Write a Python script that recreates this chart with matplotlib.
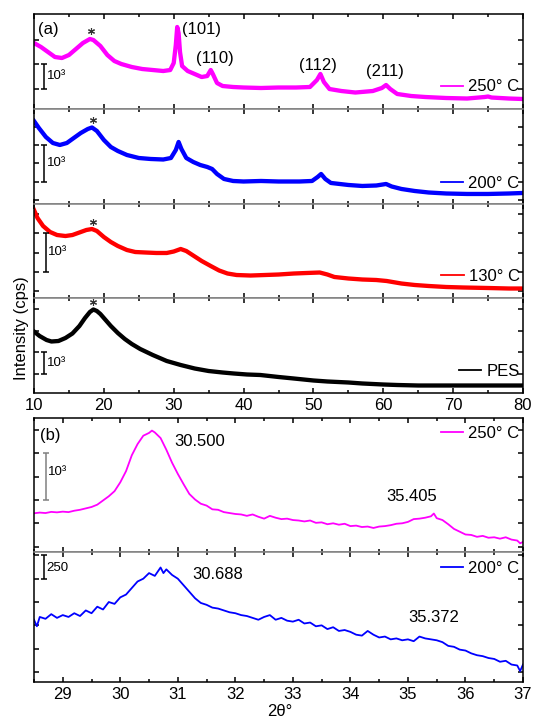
import matplotlib
matplotlib.use('Agg')
import matplotlib.pyplot as plt
from matplotlib.lines import Line2D
from matplotlib.ticker import MultipleLocator

plt.rcParams['font.family'] = ['Liberation Sans', 'DejaVu Sans']

# --- dados (a): 2theta x intensidade (cps) ---
tt_250 = [10.0, 11.0, 12.0, 13.0, 14.0, 15.0, 16.0, 17.0, 18.0, 18.5, 19.5, 20.5, 21.5, 22.5,
          24.0, 25.5, 27.0, 28.5, 29.5, 30.0, 30.3, 30.5, 30.7, 30.9, 31.2, 32.0, 33.0, 34.0,
          34.8, 35.3, 35.6, 36.2, 37.0, 38.5, 40.0, 42.5, 45.0, 47.5, 49.5, 50.5, 51.0, 51.5,
          52.3, 54.0, 56.0, 58.5, 59.8, 60.4, 61.0, 62.0, 64.0, 66.0, 69.0, 72.0, 74.5, 75.0,
          75.5, 78.0, 80.0]
int_250 = [2872, 2708, 2502, 2296, 2255, 2379, 2625, 2872, 3037, 2996, 2749, 2379, 2132, 2008,
           1885, 1802, 1761, 1720, 1761, 2049, 2790, 3531, 3284, 2502, 1926, 1720, 1597, 1473,
           1514, 1761, 1597, 1226, 1103, 1062, 1041, 1021, 1041, 1041, 1062, 1350, 1597, 1267,
           979, 897, 835, 897, 1021, 1144, 979, 774, 691, 650, 609, 588, 650, 671,
           629, 588, 568]

tt_200 = [10.0, 10.7, 11.7, 12.7, 13.7, 14.7, 15.7, 16.7, 17.7, 18.3, 19.0, 20.0, 21.0, 22.0,
          23.3, 25.0, 26.7, 28.5, 29.6, 30.3, 30.7, 31.1, 31.8, 32.8, 33.8, 34.8, 35.5, 36.2,
          37.2, 38.5, 40.0, 42.5, 45.0, 48.0, 49.8, 50.6, 51.1, 51.7, 52.5, 55.0, 57.0, 59.0,
          60.4, 61.2, 62.6, 64.5, 66.5, 69.0, 72.0, 75.0, 78.0, 80.0]
int_200 = [2655, 2464, 2219, 2055, 2001, 2055, 2192, 2328, 2437, 2478, 2383, 2137, 1946, 1837,
           1728, 1646, 1619, 1605, 1646, 1864, 2083, 1892, 1646, 1537, 1455, 1401, 1346, 1210,
           1074, 1019, 1005, 1019, 1005, 1005, 1019, 1128, 1210, 1074, 965, 910, 883, 896,
           937, 869, 801, 746, 705, 678, 665, 665, 678, 692]

tt_130 = [10.0, 10.5, 11.3, 12.3, 13.3, 14.5, 15.5, 16.5, 17.5, 18.3, 19.0, 20.0, 21.0, 22.0,
          23.3, 24.5, 26.0, 27.5, 29.0, 30.0, 31.0, 31.8, 32.9, 34.0, 35.3, 36.5, 37.7, 39.0,
          41.0, 43.0, 45.0, 47.2, 49.0, 50.9, 52.0, 53.0, 55.0, 57.0, 59.0, 60.5, 62.6, 64.5,
          66.5, 69.0, 71.5, 75.0, 78.0, 80.0]
int_130 = [2604, 2397, 2190, 2035, 1957, 1931, 1957, 2022, 2087, 2112, 2061, 1905, 1776, 1673,
           1569, 1517, 1504, 1492, 1492, 1530, 1595, 1543, 1414, 1285, 1155, 1039, 961, 922,
           909, 922, 935, 961, 974, 987, 935, 871, 832, 806, 793, 767, 702, 664,
           638, 612, 599, 586, 573, 573]

tt_pes = [10.0, 10.8, 11.8, 12.5, 13.5, 14.5, 15.5, 16.5, 17.3, 18.0, 18.5, 19.0, 19.5, 20.0,
          21.0, 22.0, 23.0, 24.0, 25.2, 27.0, 29.0, 31.0, 33.0, 35.0, 37.0, 38.6, 40.5, 42.4,
          45.0, 47.2, 50.0, 52.0, 55.0, 57.0, 60.0, 62.0, 65.0, 70.0, 75.0, 80.0]
int_pes = [2961, 2754, 2569, 2500, 2523, 2661, 2869, 3215, 3584, 3861, 3977, 3907, 3769, 3584,
           3215, 2892, 2615, 2385, 2154, 1877, 1600, 1415, 1254, 1138, 1069, 1023, 977, 954,
           862, 792, 700, 654, 608, 562, 515, 492, 469, 469, 469, 469]

# posição dos asteriscos (pico amorfo do PES) em cada painel
tt_ast = [18.1, 18.4, 18.4, 18.5]
int_ast = [3346, 2683, 2301, 4346]

# --- dados (b): zoom 28.5-37 ---
tt_b250 = [28.5, 28.6, 28.7, 28.8, 28.9, 29.0, 29.1, 29.2, 29.3, 29.4, 29.5, 29.6, 29.7, 29.8,
           29.9, 30.0, 30.1, 30.2, 30.3, 30.4, 30.5, 30.55, 30.6, 30.7, 30.8, 30.9, 31.0, 31.1,
           31.2, 31.3, 31.4, 31.5, 31.6, 31.7, 31.8, 31.9, 32.0, 32.1, 32.2, 32.3, 32.4, 32.5,
           32.6, 32.7, 32.8, 32.9, 33.0, 33.1, 33.2, 33.3, 33.4, 33.5, 33.6, 33.7, 33.8, 33.9,
           34.0, 34.1, 34.2, 34.3, 34.4, 34.5, 34.6, 34.7, 34.8, 34.9, 35.0, 35.1, 35.2, 35.3,
           35.4, 35.45, 35.5, 35.6, 35.7, 35.8, 35.9, 36.0, 36.1, 36.2, 36.3, 36.4, 36.5, 36.6,
           36.7, 36.8, 36.9, 36.95, 37.0]
int_b250 = [1715, 1730, 1720, 1745, 1735, 1750, 1740, 1770, 1790, 1820, 1850, 1900, 1990, 2080,
            2190, 2380, 2620, 2960, 3200, 3380, 3440, 3490, 3450, 3330, 3080, 2800, 2560, 2340,
            2130, 2010, 1920, 1880, 1800, 1790, 1740, 1720, 1700, 1690, 1660, 1690, 1640, 1600,
            1660, 1620, 1590, 1600, 1570, 1560, 1540, 1560, 1510, 1520, 1480, 1500, 1470, 1490,
            1440, 1450, 1420, 1430, 1400, 1430, 1440, 1460, 1490, 1500, 1530, 1590, 1600, 1620,
            1650, 1710, 1610, 1570, 1480, 1380, 1320, 1260, 1250, 1210, 1230, 1190, 1200, 1170,
            1200, 1150, 1130, 1070, 1100]

tt_b200 = [28.5, 28.55, 28.6, 28.7, 28.8, 28.9, 29.0, 29.1, 29.2, 29.3, 29.4, 29.5, 29.6, 29.7,
           29.8, 29.9, 30.0, 30.1, 30.2, 30.3, 30.4, 30.5, 30.6, 30.7, 30.75, 30.8, 30.9, 31.0,
           31.1, 31.2, 31.3, 31.4, 31.5, 31.6, 31.7, 31.8, 31.9, 32.0, 32.1, 32.2, 32.3, 32.4,
           32.5, 32.6, 32.7, 32.8, 32.9, 33.0, 33.1, 33.2, 33.3, 33.4, 33.5, 33.6, 33.7, 33.8,
           33.9, 34.0, 34.1, 34.2, 34.3, 34.4, 34.5, 34.6, 34.7, 34.8, 34.9, 35.0, 35.1, 35.2,
           35.3, 35.4, 35.5, 35.6, 35.7, 35.8, 35.9, 36.0, 36.1, 36.2, 36.3, 36.4, 36.5, 36.6,
           36.7, 36.8, 36.9, 36.95, 37.0]
int_b200 = [1060, 990, 1090, 1070, 1120, 1080, 1110, 1090, 1130, 1100, 1160, 1130, 1200, 1170,
            1250, 1230, 1300, 1330, 1400, 1470, 1500, 1560, 1530, 1620, 1560, 1600, 1540, 1500,
            1430, 1360, 1290, 1240, 1220, 1190, 1180, 1160, 1140, 1130, 1110, 1100, 1080, 1060,
            1090, 1110, 1060, 1080, 1050, 1040, 1060, 1020, 1030, 990, 1000, 960, 980, 940,
            950, 930, 900, 890, 940, 900, 870, 880, 850, 860, 840, 850, 830, 880, 860, 850,
            840, 820, 780, 770, 740, 730, 700, 680, 670, 650, 640, 610, 620, 580, 570, 510, 580]

W, H = 533, 720
fig = plt.figure(figsize=(W / 100, H / 100), dpi=100)
CINZA = '#808080'


def eixo(x0, y0, x1, y1):
    return fig.add_axes([x0 / W, 1 - y1 / H, (x1 - x0) / W, (y1 - y0) / H])


def estilo(ax, xlim, ylim, yticks, major, minor, topo_cinza, base_cinza, rotulos):
    ax.set_xlim(*xlim)
    ax.set_ylim(*ylim)
    ax.set_yticks(yticks)
    ax.xaxis.set_major_locator(MultipleLocator(major))
    ax.xaxis.set_minor_locator(MultipleLocator(minor))
    ax.tick_params(axis='x', which='both', direction='in', top=True, bottom=True,
                   labelbottom=rotulos, labelsize=12, width=1.1)
    ax.tick_params(axis='x', which='major', length=3.8)
    ax.tick_params(axis='x', which='minor', length=2.4)
    ax.tick_params(axis='y', direction='in', left=True, right=True, labelleft=False,
                   length=3.6, width=1.1)
    for lado in ['left', 'right', 'top', 'bottom']:
        ax.spines[lado].set_linewidth(1.1)
    if topo_cinza:
        ax.spines['top'].set_color(CINZA)
    if base_cinza:
        ax.spines['bottom'].set_color(CINZA)
    for t in ax.xaxis.get_major_ticks() + ax.xaxis.get_minor_ticks():
        t.tick1line.set_color(CINZA if base_cinza else 'k')
        t.tick2line.set_color(CINZA if topo_cinza else 'k')


def legenda(ax, cor, texto, y):
    h = Line2D([], [], color=cor, lw=1.3)
    ax.legend([h], [texto], loc='center right', bbox_to_anchor=(0.993, y), frameon=False,
              handlelength=1.35, handletextpad=0.3, borderpad=0, borderaxespad=0, fontsize=12)


def barra(ax, x, y0, y1, xt, yt, texto, cor='k'):
    ax.errorbar(x, (y0 + y1) / 2, yerr=(y1 - y0) / 2, fmt='none', ecolor=cor, elinewidth=1.1,
                capsize=2.3, capthick=1.1)
    ax.text(xt, yt, texto, fontsize=9.5, ha='left', va='center')


# --- (a) quatro painéis empilhados ---
bordas = [14, 108.75, 203.5, 298.25, 393]
axs = [eixo(34, bordas[i], 523, bordas[i + 1]) for i in range(4)]

series = [(tt_250, int_250, '#ff00ff', '250° C', (167, 4066), [1000, 2000, 3000], 0.23),
          (tt_200, int_200, '#0000ff', '200° C', (405, 2989), [500, 1000, 1500, 2000, 2500], 0.216),
          (tt_130, int_130, '#ff0000', '130° C', (321, 2772), [500, 1000, 1500, 2000, 2500], 0.227),
          (tt_pes, int_pes, 'k', 'PES', (123, 4496), [1000, 2000, 3000, 4000], 0.225)]

for i, (ax, (x, y, cor, nome, lim, yt, yl)) in enumerate(zip(axs, series)):
    ax.plot(x, y, color=cor, lw=3.1, solid_joinstyle='round')
    ax.plot(tt_ast[i], int_ast[i], marker=(6, 2, 0), color='#333333', ms=5, mew=0.8)
    estilo(ax, (10, 80), lim, yt, 10, 5, i > 0, i < 3, i == 3)
    legenda(ax, cor, nome, yl)

# barras de escala 10^3
barra(axs[0], 11.47, 1000, 2000, 11.8, 1514, '10³')
barra(axs[1], 11.47, 1000, 2000, 11.8, 1510, '10³')
barra(axs[2], 11.72, 1000, 2000, 12.0, 1510, '10³')
barra(axs[3], 11.47, 1000, 2000, 11.8, 1494, '10³')

# planos cristalinos
axs[0].text(34.0, 3417, '(101)', fontsize=12, ha='center', va='center')
axs[0].text(35.95, 2237, '(110)', fontsize=12, ha='center', va='center')
axs[0].text(50.65, 1958, '(112)', fontsize=12, ha='center', va='center')
axs[0].text(60.24, 1717, '(211)', fontsize=12, ha='center', va='center')
axs[0].text(0.008, 0.834, '(a)', transform=axs[0].transAxes, fontsize=12, ha='left', va='center')

# --- (b) zoom 28.5-37 ---
bx1 = eixo(34, 418, 523, 552)
bx2 = eixo(34, 552, 523, 682)
bx1.plot(tt_b250, int_b250, color='#ff00ff', lw=1.3)
bx2.plot(tt_b200, int_b200, color='#0000ff', lw=1.3)
estilo(bx1, (28.5, 37), (884, 3760), [1000, 1500, 2000, 2500, 3000, 3500], 1, 0.5, False, True, False)
estilo(bx2, (28.5, 37), (393, 1786), [500, 750, 1000, 1250, 1500, 1750], 1, 0.5, True, False, True)
legenda(bx1, '#ff00ff', '250° C', 0.886)
legenda(bx2, '#0000ff', '200° C', 0.875)
barra(bx1, 28.71, 2000, 3000, 28.74, 2600, '10³', cor=CINZA)
barra(bx2, 28.68, 1500, 1750, 28.71, 1615, '250')

bx1.text(31.38, 3251, '30.500', fontsize=12, ha='center', va='center')
bx1.text(35.07, 2071, '35.405', fontsize=12, ha='center', va='center')
bx2.text(31.70, 1540, '30.688', fontsize=12, ha='center', va='center')
bx2.text(35.45, 1081, '35.372', fontsize=12, ha='center', va='center')
bx1.text(0.034, 0.873, '(b)', transform=bx1.transAxes, fontsize=12, ha='center', va='center')

fig.text(22 / W, 1 - 328 / H, 'Intensity (cps)', rotation=90, fontsize=12, ha='center', va='center')
fig.text(280 / W, 1 - 712 / H, '2θ°', fontsize=12, ha='center', va='center')

fig.savefig('out.png', dpi=100)
